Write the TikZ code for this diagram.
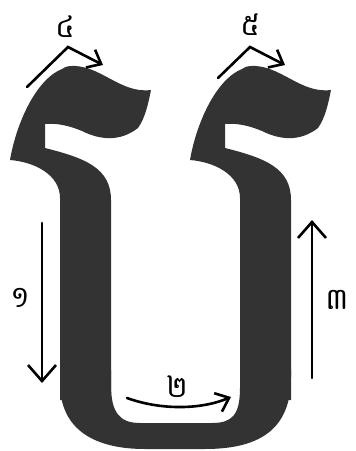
\documentclass[tikz,border=0pt]{standalone}
\usepackage{fontspec}
\usepackage{tikz}
\usetikzlibrary{arrows.meta}
\newfontfamily\khmerfont[Script=Khmer]{Battambang}

\tikzset{
  glyph/.style={fill=black!80,draw=none},
  pen/.style={line width=2.6pt,line cap=round},
  bigtip/.style={pen,-{Straight Barb[length=16pt,width=28pt]}},
  smalltip/.style={pen,-{Straight Barb[length=12pt,width=20pt]}},
  numlabel/.style={font=\khmerfont\fontsize{30}{30}\selectfont,inner sep=0pt}
}

\begin{document}
\begin{tikzpicture}[x=1pt,y=-1pt]
\useasboundingbox (0,0) rectangle (356,451);
% the two hooked stems
\foreach \dx in {-180,0} {
  \begin{scope}[xshift=\dx pt]
  \fill[glyph] (250,66) .. controls (280,64) and (300,94) .. (331,90)
    .. controls (328,105) and (325,118) .. (318,128)
    .. controls (300,142) and (280,140) .. (262,131)
    .. controls (248,125) and (235,123) .. (225,124)
    -- (225,148) .. controls (265,158) and (291,168) .. (291,200)
    -- (291,400) -- (240,400) -- (240,198)
    .. controls (240,175) and (215,162) .. (190,160)
    .. controls (196,125) and (215,80) .. (242,69)
    .. controls (245,67) and (248,66) .. (250,66) -- cycle;
  \end{scope}
}
% bowl of the U
\fill[glyph] (60,370) -- (60,383) .. controls (60,430) and (95,449) .. (145,449)
  -- (205,449) .. controls (265,449) and (291,425) .. (291,377) -- (291,370)
  -- (240,370) -- (240,388) .. controls (240,415) and (232,423) .. (212,423)
  -- (140,423) .. controls (120,423) and (111,413) .. (111,385) -- (111,370) -- cycle;

% stroke arrows
\coordinate (s1) at (42,223);   \coordinate (e1) at (42,383);
\coordinate (s2) at (127,398);  \coordinate (e2) at (231,397);
\coordinate (s3) at (312,378);  \coordinate (e3) at (312,220);
\coordinate (s4) at (27,87);    \coordinate (k4) at (68,47);  \coordinate (e4) at (103,65);
\coordinate (s5) at (218,78);   \coordinate (k5) at (250,47); \coordinate (e5) at (285,65);
\draw[bigtip] (s1) -- (e1);
\draw[smalltip] (s2) .. controls (160,410) and (200,410) .. (e2);
\draw[bigtip] (s3) -- (e3);
\draw[smalltip] (s4) -- (k4) -- (e4);
\draw[smalltip] (s5) -- (k5) -- (e5);

% step numbers
\node[numlabel] (n1) at (20,298) {១};
\node[numlabel] (n2) at (177,387) {២};
\node[numlabel] (n3) at (337,300) {៣};
\node[numlabel] (n4) at (65,27) {៤};
\node[numlabel] (n5) at (250,25) {៥};
\end{tikzpicture}
\end{document}
